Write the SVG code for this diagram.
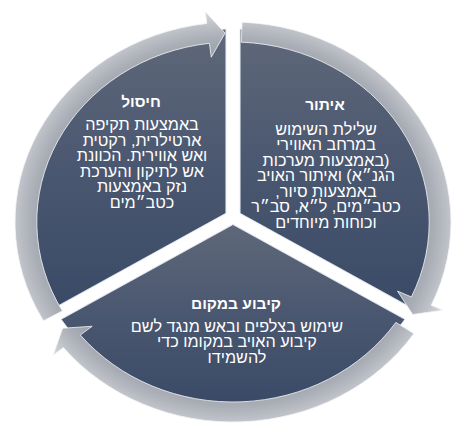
<svg xmlns="http://www.w3.org/2000/svg" width="467" height="444" viewBox="0 0 467 444">
  <style>
    .sec { fill: url(#secGrad); stroke: #dfe7f1; stroke-width: 0.9; stroke-linejoin: round; }
    .arr { fill: url(#ringGrad); stroke: #f4f5f7; stroke-width: 0.8; stroke-linejoin: miter; }
    .ttl { font-family: "Liberation Sans", Arial, "DejaVu Sans", sans-serif; font-size: 15.5px; font-weight: bold; fill: #ffffff; text-anchor: middle; }
    .txt { font-family: "Liberation Sans", Arial, "DejaVu Sans", sans-serif; font-size: 16.2px; fill: #ffffff; text-anchor: middle; }
  </style>
  <defs>
    <linearGradient id="secGrad" x1="0" y1="0" x2="0" y2="1">
      <stop offset="0" stop-color="#5f6879"/>
      <stop offset="0.5" stop-color="#4a5770"/>
      <stop offset="1" stop-color="#3a4a66"/>
    </linearGradient>
    <radialGradient id="ringGrad" gradientUnits="userSpaceOnUse" cx="0" cy="0" r="214">
      <stop offset="0.78" stop-color="#9aa0a9"/>
      <stop offset="0.86" stop-color="#a9adb5"/>
      <stop offset="0.91" stop-color="#b9bcc3"/>
      <stop offset="0.96" stop-color="#cbcdd2"/>
      <stop offset="1" stop-color="#d9dbdf"/>
    </radialGradient>
  </defs>

  <g id="node-itur">
    <path class="sec" transform="translate(233,222) scale(1.09,1)" vector-effect="non-scaling-stroke" d="M 6.5,-8.68 L 6.5,-192.89 A 188 188 0 0 1 164.41,86.19 Z"/>
    <text class="ttl" x="325" y="110">איתור</text>
    <text class="txt" x="326" y="134.5">שלילת השימוש</text>
    <text class="txt" x="326" y="150">במרחב האווירי</text>
    <text class="txt" x="326" y="165.5">באמצעות מערכות)</text>
    <text class="txt" x="326" y="181">הגנ״א) ואיתור האויב</text>
    <text class="txt" x="326" y="196.5">,באמצעות סיור</text>
    <text class="txt" x="326" y="212">כטב״מים, ל״א, סב״ר</text>
    <text class="txt" x="326" y="227.5">וכוחות מיוחדים</text>
  </g>

  <g id="node-kibua">
    <path class="sec" transform="translate(233,222) scale(1.09,1)" vector-effect="non-scaling-stroke" d="M 0,2.58 L 157.71,97.33 A 188 188 0 0 1 -157.71,97.33 Z"/>
    <text class="ttl" x="236" y="309">קיבוע במקום</text>
    <text class="txt" x="237" y="331.5">שימוש בצלפים ובאש מנגד לשם</text>
    <text class="txt" x="237" y="347">קיבוע האויב במקומו כדי</text>
    <text class="txt" x="237" y="362.5">להשמידו</text>
  </g>

  <g id="node-hisul">
    <path class="sec" transform="translate(233,222) scale(1.09,1)" vector-effect="non-scaling-stroke" d="M -6.5,-8.68 L -164.41,86.19 A 188 188 0 0 1 -6.5,-192.89 Z"/>
    <text class="ttl" x="141" y="107">חיסול</text>
    <text class="txt" x="142" y="130">באמצעות תקיפה</text>
    <text class="txt" x="142" y="145.5">ארטילרית, רקטית</text>
    <text class="txt" x="142" y="161">ואש אווירית. הכוונת</text>
    <text class="txt" x="142" y="176.5">אש לתיקון והערכת</text>
    <text class="txt" x="142" y="192">נזק באמצעות</text>
    <text class="txt" x="142" y="207.5">כטב״מים</text>
  </g>

  <g id="connectors" transform="translate(233,222) scale(1.09,1)">
    <path class="arr" vector-effect="non-scaling-stroke" d="M -173.90,98.78 A 200 200 0 0 1 -24.02,-198.55 L -25.46,-210.47 L -7.26,-188.86 L -19.94,-164.80 L -21.62,-178.70 A 180 180 0 0 0 -156.51,88.90 Z"/>
    <path class="arr" vector-effect="non-scaling-stroke" d="M 8.38,-199.82 A 200 200 0 0 1 181.85,83.27 L 192.76,88.26 L 164.83,92.50 L 150.93,69.11 L 163.66,74.94 A 180 180 0 0 0 7.54,-179.84 Z"/>
    <path class="arr" vector-effect="non-scaling-stroke" d="M 166.00,111.54 A 200 200 0 0 1 -155.64,125.60 L -164.98,133.14 L -156.32,106.24 L -129.18,104.25 L -140.08,113.04 A 180 180 0 0 0 149.40,100.39 Z"/>
  </g>
</svg>
